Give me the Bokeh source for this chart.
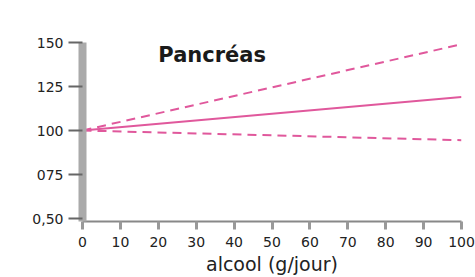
from bokeh.plotting import figure
from bokeh.models import Range1d, FixedTicker, Label
from bokeh.embed import file_html
from bokeh.resources import INLINE

# data
alcool = [0, 100]
rr_central = [1.00, 1.19]
rr_upper = [1.00, 1.49]
rr_lower = [1.00, 0.945]
y_ticks = [0.50, 0.75, 1.00, 1.25, 1.50]
y_tick_labels = ["0,50", "075", "100", "125", "150"]
x_ticks = [0, 10, 20, 30, 40, 50, 60, 70, 80, 90, 100]
title_text = "Pancréas"
x_label = "alcool (g/jour)"

pink = "#E0589C"
font = "DejaVu Sans"

p = figure(width=475, height=277, output_backend="svg", toolbar_location=None,
           x_range=Range1d(0, 100), y_range=Range1d(0.483, 1.50),
           min_border_left=82, min_border_right=14, min_border_top=42, min_border_bottom=55)
p.outline_line_color = None
p.xgrid.visible = False
p.ygrid.visible = False
p.background_fill_color = "white"
p.border_fill_color = "white"

p.line(alcool, rr_central, line_color=pink, line_width=2)
p.line(alcool, rr_upper, line_color=pink, line_width=2, line_dash="9 6")
p.line(alcool, rr_lower, line_color=pink, line_width=2, line_dash="9 6")

# y axis
ya = p.yaxis[0]
ya.ticker = FixedTicker(ticks=y_ticks)
ya.major_label_overrides = {t: l for t, l in zip(y_ticks, y_tick_labels)}
ya.axis_line_width = 8
ya.axis_line_color = "#AAAAAA"
ya.major_tick_out = 14
ya.major_tick_in = 0
ya.major_tick_line_width = 2
ya.major_tick_line_color = "#666666"
ya.minor_tick_line_color = None
ya.major_label_standoff = 5
ya.major_label_text_font = font
ya.major_label_text_font_size = "14px"
ya.major_label_text_color = "#222222"

# x axis
xa = p.xaxis[0]
xa.ticker = FixedTicker(ticks=x_ticks)
xa.axis_line_width = 2
xa.axis_line_color = "#888888"
xa.major_tick_out = 8
xa.major_tick_in = 0
xa.major_tick_line_width = 3
xa.major_tick_line_color = "#999999"
xa.minor_tick_line_color = None
xa.major_label_standoff = 7
xa.major_label_text_font = font
xa.major_label_text_font_size = "14px"
xa.major_label_text_color = "#222222"
xa.axis_label = x_label
xa.axis_label_text_font = font
xa.axis_label_text_font_size = "19px"
xa.axis_label_text_font_style = "normal"
xa.axis_label_text_color = "#222222"
xa.axis_label_standoff = 3

p.add_layout(Label(x=20, y=1.427, text=title_text, text_font=font,
                   text_font_size="21px", text_font_style="bold",
                   text_baseline="alphabetic", text_color="#1A1A1A"))

open("out.html", "w").write(file_html(p, INLINE))
